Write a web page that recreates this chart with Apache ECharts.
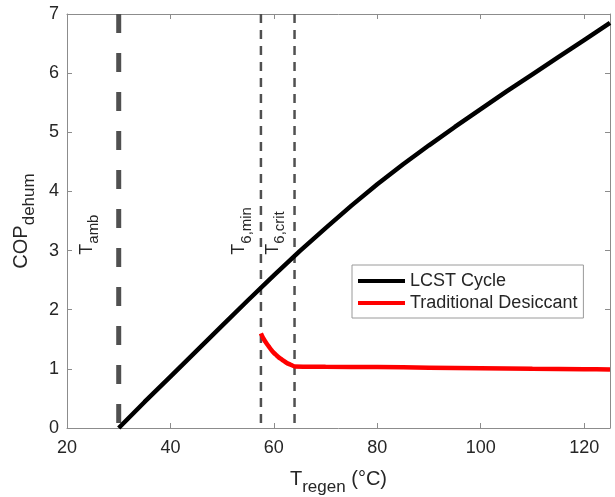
<!DOCTYPE html>
<html>
<head>
<meta charset="utf-8">
<script src="https://cdn.jsdelivr.net/npm/echarts@6/dist/echarts.min.js"></script>
<style>
  html, body { margin: 0; padding: 0; background: #fff; }
  #chart { width: 615px; height: 497px; }
</style>
</head>
<body>
<div id="chart"></div>
<script>
// LCST cycle: regeneration temperature (°C) vs COP
const lcstTemp = [30, 35, 40, 45, 50, 55, 60, 65, 70, 75, 80, 85, 90, 95, 100, 105, 110, 115, 120, 125];
const lcstCop = [0, 0.44, 0.87, 1.30, 1.73, 2.16, 2.58, 2.99, 3.38, 3.76, 4.12, 4.46, 4.78, 5.09, 5.39, 5.69, 5.98, 6.27, 6.56, 6.85];

// traditional desiccant
const deskTemp = [57.5, 58, 58.5, 59, 59.5, 60, 60.5, 61, 61.5, 62, 62.5, 63, 63.5, 64, 70, 80, 90, 100, 110, 120, 125];
const deskCop = [1.60, 1.51, 1.44, 1.38, 1.32, 1.27, 1.23, 1.19, 1.16, 1.13, 1.10, 1.08, 1.06, 1.04, 1.035, 1.03, 1.02, 1.01, 1.0, 0.995, 0.99];

// reference temperatures (vertical dashed lines)
const refNames = ["amb", "6,min", "6,crit"];
const refTemps = [30, 57.5, 64];

const xTicks = { min: 20, max: 125, interval: 20 };
const yTicks = { min: 0, max: 7, interval: 1 };

const FONT = "'Liberation Sans', Arial, sans-serif";
const AXIS_GRAY = "#8c8c8c";
const TEXT = "#262626";

const chartDom = document.getElementById("chart");
const myChart = echarts.init(chartDom, null, { renderer: "canvas" });

const zip = (a, b) => a.map((v, i) => [v, b[i]]);

// per reference line: thick one for ambient, thin for the others
const refStyles = [
  { width: 5, dash: [19, 20], color: "#505050", labelDx: -17 },
  { width: 2.5, dash: [9, 7], color: "#505050", labelDx: -7 },
  { width: 2.5, dash: [9, 7], color: "#505050", labelDx: -7 },
];

const refSeries = refTemps.map((t, i) => ({
  type: "line",
  name: "ref-" + i,
  data: [[t, yTicks.max], [t, yTicks.min]],
  symbol: "none",
  silent: true,
  z: 1,
  lineStyle: {
    color: refStyles[i].color,
    width: refStyles[i].width,
    type: refStyles[i].dash,
  },
}));

const xAxisBase = {
  type: "value",
  min: xTicks.min,
  max: xTicks.max,
  interval: xTicks.interval,
  splitLine: { show: false },
  axisLine: { show: true, onZero: false, lineStyle: { color: AXIS_GRAY, width: 1 } },
  axisTick: { show: true, inside: true, length: 5, lineStyle: { color: AXIS_GRAY } },
};

const yAxisBase = {
  type: "value",
  min: yTicks.min,
  max: yTicks.max,
  interval: yTicks.interval,
  splitLine: { show: false },
  axisLine: { show: true, onZero: false, lineStyle: { color: AXIS_GRAY, width: 1 } },
  axisTick: { show: true, inside: true, length: 5, lineStyle: { color: AXIS_GRAY } },
};

const titleRich = {
  t: { fontSize: 20, color: TEXT, fontFamily: FONT, verticalAlign: "bottom", padding: [0, 0, 7, 0] },
  s: { fontSize: 17, color: TEXT, fontFamily: FONT, verticalAlign: "bottom" },
};

const option = {
  animation: false,
  backgroundColor: "#fff",
  textStyle: { fontFamily: FONT },
  grid: { left: 67, right: 5, top: 14, bottom: 69, outerBoundsMode: "none", containLabel: false },
  legend: {
    data: ["LCST Cycle", "Traditional Desiccant"],
    orient: "vertical",
    left: 352,
    top: 265,
    icon: "rect",
    itemWidth: 47,
    itemHeight: 4,
    itemGap: 2,
    padding: [6, 6, 5, 6],
    backgroundColor: "#fff",
    borderColor: "#9a9a9a",
    borderWidth: 1,
    borderRadius: 0,
    textStyle: { fontSize: 18, color: TEXT, fontFamily: FONT, lineHeight: 20 },
  },
  xAxis: [
    {
      ...xAxisBase,
      position: "bottom",
      axisLabel: { show: true, fontSize: 18, color: TEXT, margin: 11, showMaxLabel: false, fontFamily: FONT },
      name: "{t|T}{s|regen}{t| (°C)}",
      nameLocation: "middle",
      nameGap: 41,
      nameTextStyle: { rich: titleRich },
    },
    {
      ...xAxisBase,
      position: "top",
      axisLabel: { show: false },
    },
  ],
  yAxis: [
    {
      ...yAxisBase,
      position: "left",
      axisLabel: { show: true, fontSize: 18, color: TEXT, margin: 8, fontFamily: FONT },
      name: "{t|COP}{s|dehum}",
      nameLocation: "middle",
      nameGap: 29,
      nameTextStyle: { rich: titleRich },
    },
    {
      ...yAxisBase,
      position: "right",
      axisLabel: { show: false },
    },
  ],
  series: [
    ...refSeries,
    {
      type: "line",
      name: "LCST Cycle",
      data: zip(lcstTemp, lcstCop),
      symbol: "none",
      z: 3,
      color: "#000000",
      lineStyle: { color: "#000000", width: 4.5 },
    },
    {
      type: "line",
      name: "Traditional Desiccant",
      data: zip(deskTemp, deskCop),
      symbol: "none",
      smooth: 0.2,
      z: 3,
      color: "#ff0000",
      lineStyle: { color: "#ff0000", width: 4.5 },
    },
  ],
};

myChart.setOption(option);

// rotated labels beside the reference lines, placed through the axes
const labelY = 2.93;
const graphics = refTemps.map((t, i) => {
  const p = myChart.convertToPixel({ gridIndex: 0 }, [t, labelY]);
  return {
    type: "text",
    x: p[0] + refStyles[i].labelDx,
    y: p[1],
    rotation: Math.PI / 2,
    z: 10,
    style: {
      text: "{t|T}{s|" + refNames[i] + "}",
      align: "left",
      verticalAlign: "bottom",
      fill: TEXT,
      rich: {
        t: { fontSize: 18, fill: TEXT, fontFamily: FONT, verticalAlign: "bottom", padding: [0, 0, 6, 0] },
        s: { fontSize: 15, fill: TEXT, fontFamily: FONT, verticalAlign: "bottom" },
      },
    },
  };
});

myChart.setOption({ graphic: graphics });

window.addEventListener("resize", () => {
  myChart.resize();
});
</script>
</body>
</html>
